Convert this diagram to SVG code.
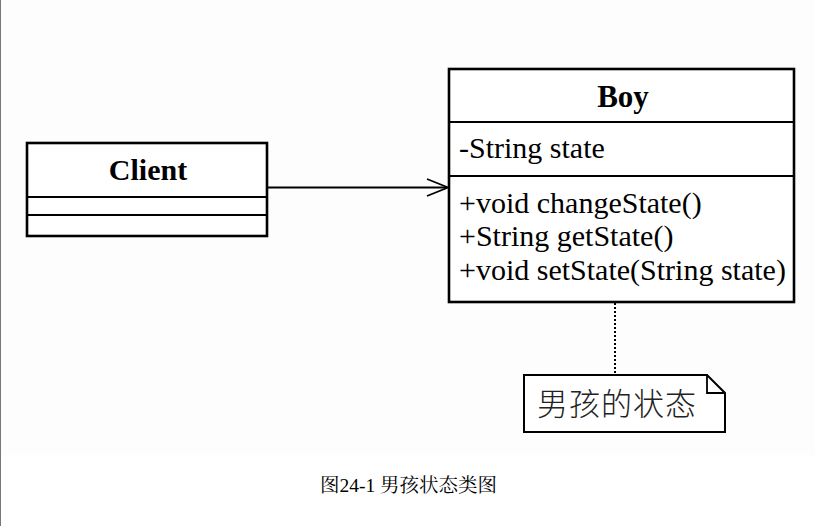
<svg xmlns="http://www.w3.org/2000/svg" width="815" height="526" viewBox="0 0 815 526">
<style>
.box{fill:#fff;stroke:#000;stroke-width:2.6}
.div{stroke:#000;stroke-width:2.2}
.t{font-family:"Liberation Serif","Times New Roman",serif;fill:#000}
.b{font-weight:bold;text-anchor:middle}
.conn{fill:none;stroke:#000;stroke-width:1.8}
.cjk{font-family:"Noto Sans CJK SC",sans-serif;fill:#222;font-weight:300}
</style>
<rect x="0" y="0" width="815" height="526" fill="#fff"/>
<rect x="1" y="0" width="814" height="455" fill="#fdfdfd"/>
<line x1="0.5" y1="0" x2="0.5" y2="526" stroke="#777" stroke-width="1"/>
<g id="connectors">
<path class="conn" d="M267 187.5 H447"/>
<path class="conn" d="M427 179 L448 187.5 L427 196"/>
<path d="M615 303 V374" fill="none" stroke="#000" stroke-width="2" stroke-dasharray="2 2"/>
</g>
<g id="client">
<rect class="box" x="27" y="143" width="240" height="93"/>
<line class="div" x1="27" y1="197" x2="267" y2="197"/>
<line class="div" x1="27" y1="215" x2="267" y2="215"/>
<text class="t b" x="148" y="180" font-size="30">Client</text>
</g>
<g id="boy">
<rect class="box" x="449" y="69" width="345" height="233"/>
<line class="div" x1="449" y1="122" x2="794" y2="122"/>
<line class="div" x1="449" y1="176" x2="794" y2="176"/>
<text class="t b" x="623" y="107" font-size="31">Boy</text>
<text class="t" x="459" y="158" font-size="30">-String state</text>
<text class="t" x="459" y="213" font-size="30">+void changeState()</text>
<text class="t" x="459" y="246" font-size="30">+String getState()</text>
<text class="t" x="459" y="280" font-size="30">+void setState(String state)</text>
</g>
<g id="note">
<path d="M524 375 H707 L725 393 V432 H524 Z" fill="#fff" stroke="#000" stroke-width="2"/>
<path d="M707 375 V393 H725" fill="none" stroke="#000" stroke-width="1.8"/>
<text class="cjk" x="537" y="415" font-size="31" letter-spacing="1">男孩的状态</text>
</g>
<text x="320" y="492" font-size="19.5" font-family="Liberation Serif,'Noto Serif CJK SC','Noto Sans CJK SC',serif" fill="#000">图24-1 男孩状态类图</text>
</svg>
